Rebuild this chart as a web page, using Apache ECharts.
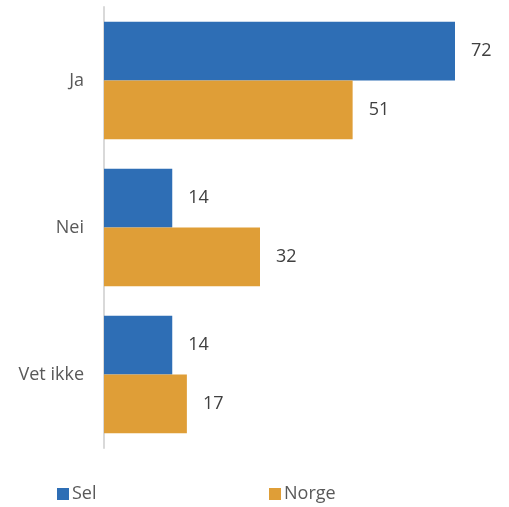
<!DOCTYPE html>
<html>
<head>
<meta charset="utf-8">
<script src="https://cdn.jsdelivr.net/npm/echarts@6/dist/echarts.min.js"></script>
<style>
  html, body { margin: 0; padding: 0; background: #fff; }
  #chart { width: 509px; height: 507px; }
</style>
</head>
<body>
<div id="chart"></div>
<script>
const categories = ['Ja', 'Nei', 'Vet ikke'];
const selValues = [72, 14, 14];
const norgeValues = [51, 32, 17];
const seriesNames = ['Sel', 'Norge'];

const FONT = '"Open Sans", "Noto Sans", sans-serif';
const chart = echarts.init(document.getElementById('chart'), null, { renderer: 'canvas' });

const valueLabel = {
  show: true,
  position: 'right',
  distance: 16,
  color: '#404040',
  fontSize: 18,
  fontFamily: FONT
};

const legendText = { color: '#595959', fontSize: 18, fontFamily: FONT, padding: [0, 0, 0, -2] };

chart.setOption({
  animation: false,
  grid: { left: 104, top: 7, width: 390, height: 441 },
  xAxis: {
    type: 'value', min: 0, max: 80,
    show: false
  },
  yAxis: {
    type: 'category',
    data: categories,
    inverse: true,
    axisLine: { show: true, lineStyle: { color: '#d9d9d9', width: 2 } },
    axisTick: { show: false },
    axisLabel: { color: '#595959', fontSize: 18, fontFamily: FONT, margin: 20 }
  },
  legend: [
    {
      data: [seriesNames[0]], left: 57, top: 485, padding: 0,
      itemWidth: 12, itemHeight: 12, icon: 'rect', itemGap: 4,
      textStyle: legendText
    },
    {
      data: [seriesNames[1]], left: 269, top: 485, padding: 0,
      itemWidth: 12, itemHeight: 12, icon: 'rect', itemGap: 4,
      textStyle: legendText
    }
  ],
  series: [
    {
      name: seriesNames[0], type: 'bar', data: selValues,
      barGap: '0%', barCategoryGap: '20%',
      itemStyle: { color: '#2E6EB5' },
      label: valueLabel
    },
    {
      name: seriesNames[1], type: 'bar', data: norgeValues,
      barGap: '0%', barCategoryGap: '20%',
      itemStyle: { color: '#DF9E37' },
      label: valueLabel
    }
  ]
});
</script>
</body>
</html>
